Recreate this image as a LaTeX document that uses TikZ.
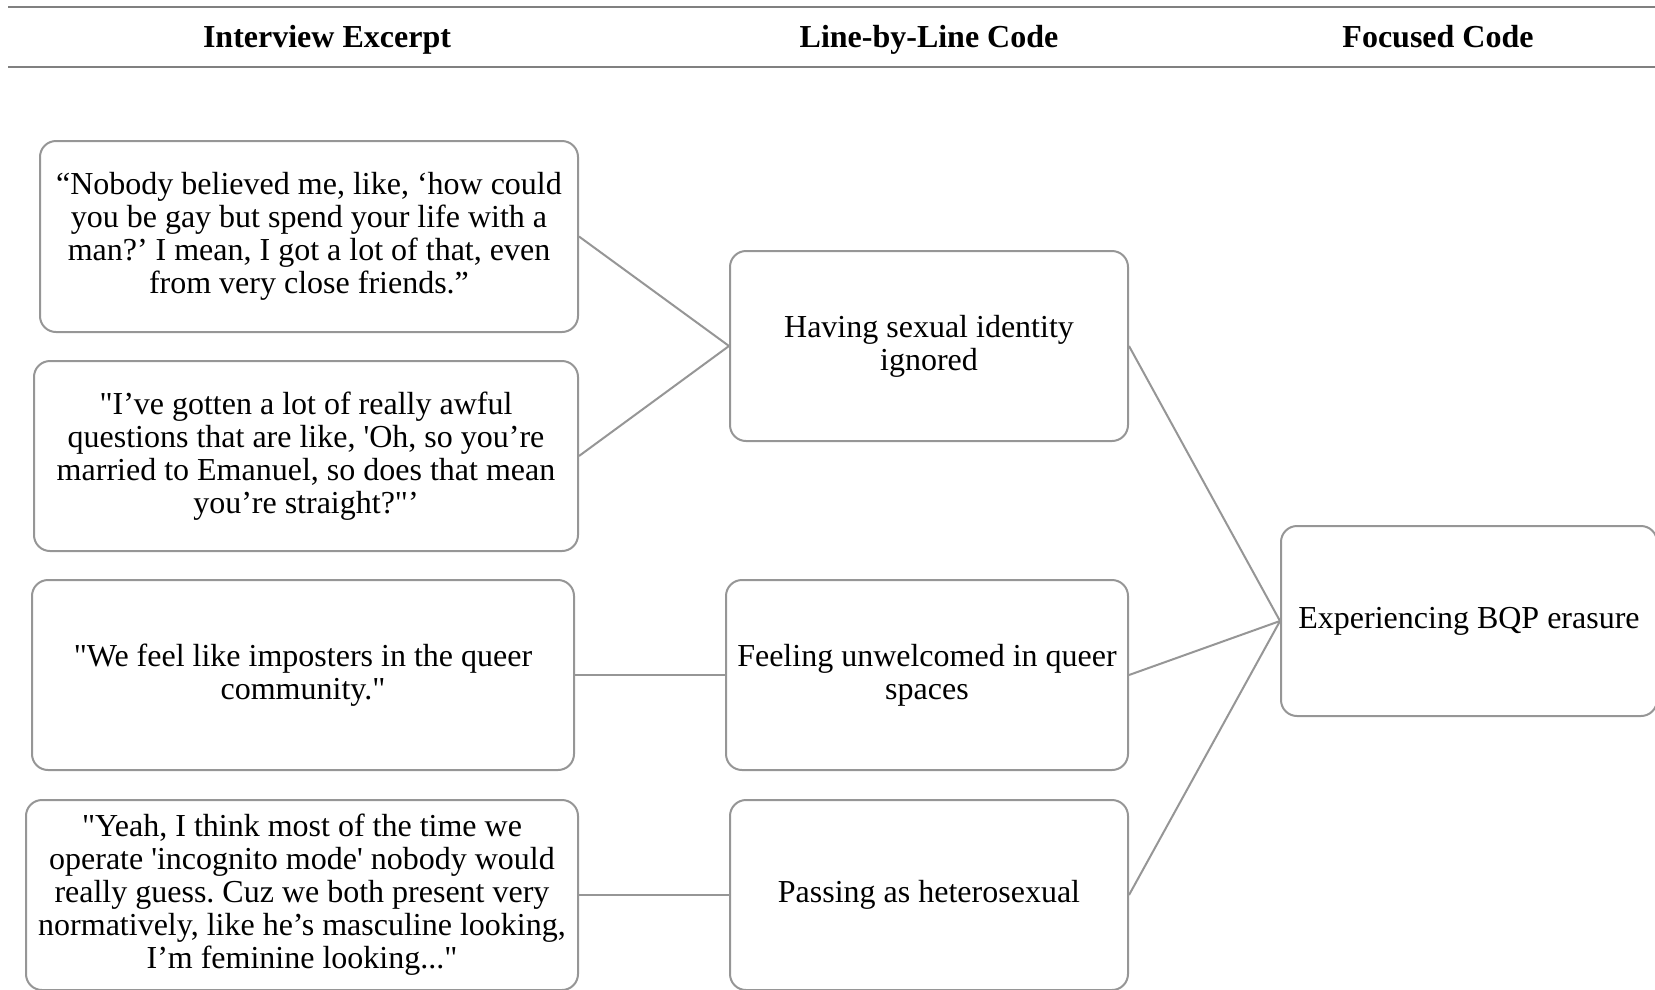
\documentclass[tikz,border=0pt]{standalone}
\usepackage{fontspec}
\setmainfont{Liberation Serif}[Ligatures=TeXOff]
\definecolor{boxgray}{RGB}{150,150,150}
\definecolor{rulegray}{RGB}{128,128,128}
\begin{document}
\frenchspacing
\begin{tikzpicture}[x=1pt,y=-1pt,
  box/.style={draw=boxgray, line width=2pt, rounded corners=16pt, align=center,
    inner sep=0pt, font=\fontsize{32}{33}\selectfont},
  head/.style={anchor=base, font=\fontsize{32}{33}\selectfont\bfseries},
  link/.style={draw=boxgray, line width=2pt},
  rulestyle/.style={draw=rulegray, line width=2pt}]
\useasboundingbox (0,0) rectangle (1655,989);
\coordinate (r1a) at (8,6.5);
\coordinate (r1b) at (1655,6.5);
\coordinate (r2a) at (8,66.5);
\coordinate (r2b) at (1655,66.5);
\draw[rulestyle] (r1a) -- (r1b);
\draw[rulestyle] (r2a) -- (r2b);
\node[head] (h1) at (327,47) {Interview Excerpt};
\node[head] (h2) at (929,47) {Line-by-Line Code};
\node[head] (h3) at (1438,47) {Focused Code};

\node[box, minimum width=538, minimum height=191] (a) at (309,236.5)
  {“Nobody believed me, like, ‘how could\\you be gay but spend your life with a\\man?’ I mean, I got a lot of that, even\\from very close friends.”};
\node[box, minimum width=544, minimum height=190] (b) at (306,456)
  {"I’ve gotten a lot of really awful\\questions that are like, 'Oh, so you’re\\married to Emanuel, so does that mean\\you’re straight?"’};
\node[box, minimum width=542, minimum height=190] (c) at (303,675)
  {"We feel like imposters in the queer\\community."};
\node[box, minimum width=552, minimum height=190] (d) at (302,895)
  {"Yeah, I think most of the time we\\operate 'incognito mode' nobody would\\really guess. Cuz we both present very\\normatively, like he’s masculine looking,\\I’m feminine looking..."};

\node[box, minimum width=398, minimum height=190] (e) at (929,346)
  {Having sexual identity\\ignored};
\node[box, minimum width=402, minimum height=190] (f) at (927,675)
  {Feeling unwelcomed in queer\\spaces};
\node[box, minimum width=398, minimum height=190] (g) at (929,895)
  {Passing as heterosexual};
\node[box, minimum width=376, minimum height=190] (h) at (1469,621)
  {Experiencing BQP erasure};

\draw[link] (a.east) -- (e.west);
\draw[link] (b.east) -- (e.west);
\draw[link] (c.east) -- (f.west);
\draw[link] (d.east) -- (g.west);
\draw[link] (e.east) -- (h.west);
\draw[link] (f.east) -- (h.west);
\draw[link] (g.east) -- (h.west);
\end{tikzpicture}
\end{document}
